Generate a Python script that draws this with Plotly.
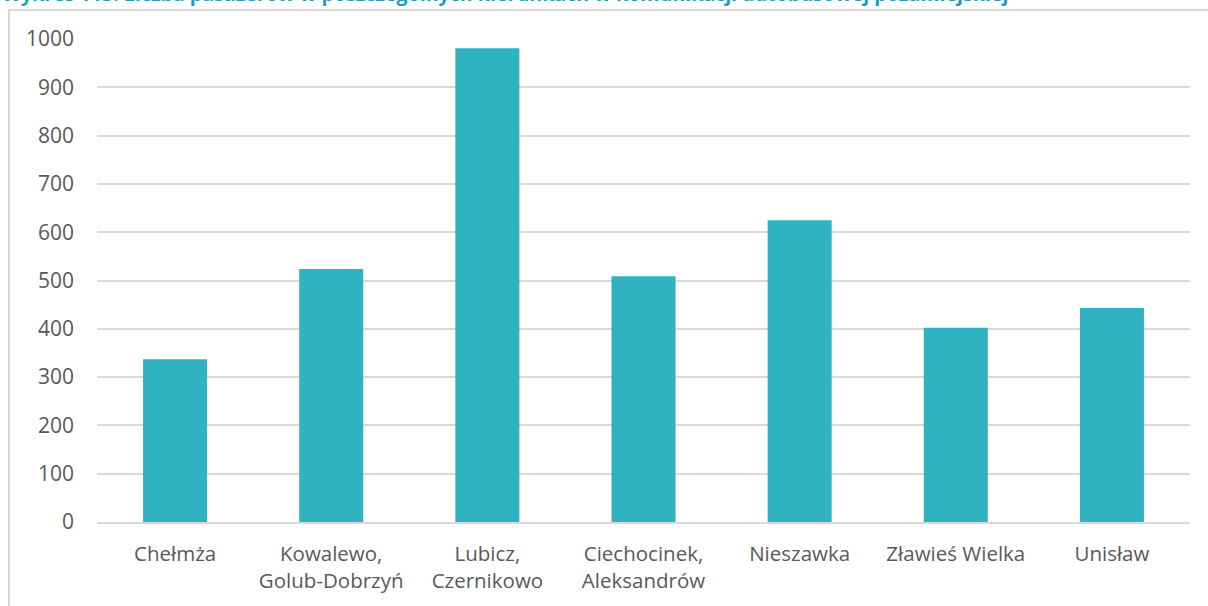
import plotly.graph_objects as go

# dane
kierunki = ['Chełmża', 'Kowalewo,<br>Golub-Dobrzyń', 'Lubicz,<br>Czernikowo', 'Ciechocinek,<br>Aleksandrów',
            'Nieszawka', 'Zławieś Wielka', 'Unisław']
pasazerowie = [337, 524, 981, 509, 625, 402, 443]
y_ticks = list(range(0, 1001, 100))
tytul = 'Wykres 113. Liczba pasażerów w poszczególnych kierunkach w komunikacji autobusowej pozamiejskiej'

fig = go.Figure()
fig.add_trace(go.Bar(x=kierunki, y=pasazerowie, marker=dict(color='#2FB3C1', line=dict(width=0))))

fig.update_layout(
    width=1208, height=606,
    margin=dict(l=97, r=18, t=39, b=84),
    plot_bgcolor='white', paper_bgcolor='white',
    bargap=0.59, showlegend=False,
    font=dict(family='Open Sans, Liberation Sans, sans-serif', size=20, color='#595959'),
)
fig.update_yaxes(range=[0, 1000], tickvals=y_ticks, showgrid=True, gridcolor='#D9D9D9', gridwidth=1.5,
                 zeroline=False, ticks='', showline=False, ticklabelstandoff=22,
                 tickfont=dict(size=21, color='#595959'))
fig.update_xaxes(showline=True, linecolor='#D9D9D9', linewidth=1.5, ticks='', showgrid=False,
                 ticklabelstandoff=13, tickfont=dict(size=20.5, color='#595959'))

# ramka wokół wykresu
fig.add_shape(type='rect', xref='paper', yref='paper', x0=-0.0805, x1=1.05, y0=-0.3, y1=1.060,
              line=dict(color='#D9D9D9', width=2), fillcolor='rgba(0,0,0,0)', layer='below')

# tytuł ucięty u góry
fig.add_annotation(text='<b>' + tytul + '</b>', xref='paper', yref='paper', x=-0.089, y=1.062,
                   xanchor='left', yanchor='bottom', showarrow=False,
                   font=dict(family='Open Sans, sans-serif', size=19.6, color='#1E9BC0'))

fig.write_html('out.html', config={'displayModeBar': False},
               post_script="document.body.style.margin='0';")
